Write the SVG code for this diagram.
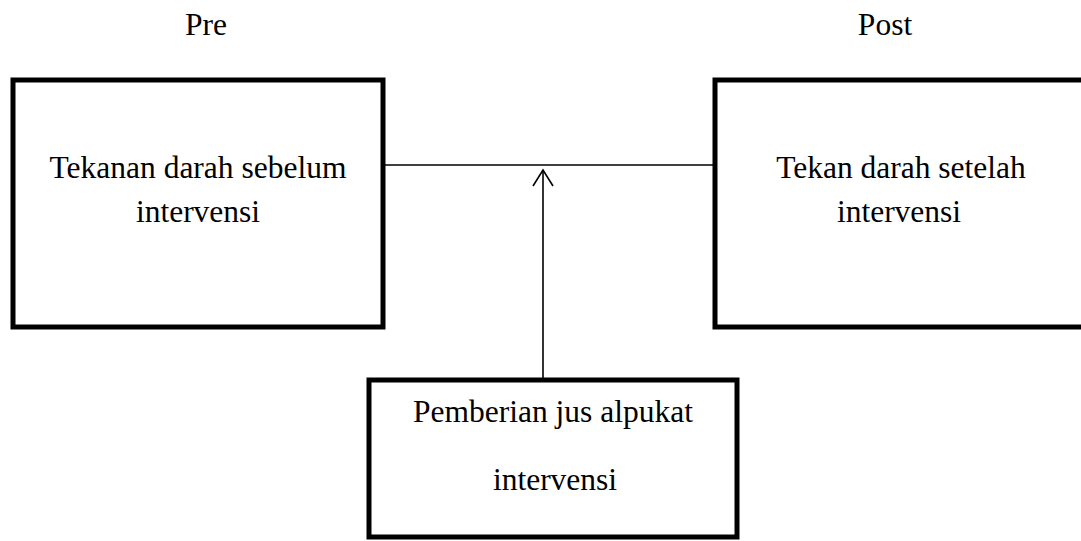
<svg xmlns="http://www.w3.org/2000/svg" width="1081" height="541" viewBox="0 0 1081 541">
<style>
.box{fill:#fff;stroke:#000;stroke-width:5}
.t{font-family:"Liberation Serif","Times New Roman",serif;font-size:31.5px;fill:#000;text-anchor:middle}
.c{stroke:#000;fill:none;stroke-width:1.6}
</style>
<rect width="1081" height="541" fill="#fff"/>
<text class="t" x="206" y="35">Pre</text>
<text class="t" x="885" y="35">Post</text>
<g id="connectors">
<line class="c" x1="383" y1="165" x2="715" y2="165"/>
<line class="c" x1="543" y1="380" x2="543" y2="170"/>
<polyline class="c" points="533,186 543,170 553,186"/>
</g>
<g id="pre">
<rect class="box" x="13" y="80" width="370" height="247"/>
<text class="t" x="198" y="178">Tekanan darah sebelum</text>
<text class="t" x="198" y="222">intervensi</text>
</g>
<g id="post">
<rect class="box" x="715" y="80" width="380" height="247"/>
<text class="t" x="901" y="178">Tekan darah setelah</text>
<text class="t" x="899" y="222">intervensi</text>
</g>
<g id="intervensi">
<rect class="box" x="369" y="380" width="368" height="157"/>
<text class="t" x="553" y="422">Pemberian jus alpukat</text>
<text class="t" x="555" y="490">intervensi</text>
</g>
</svg>
